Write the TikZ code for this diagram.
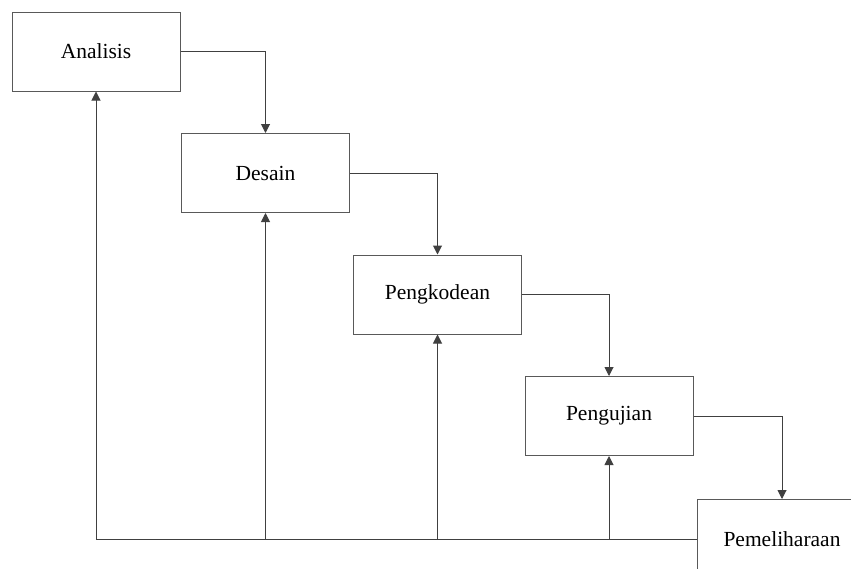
\documentclass[tikz,border=0pt]{standalone}
\usepackage{fontspec}
\setmainfont{Liberation Serif}
\usepackage{tikz}
\usetikzlibrary{arrows.meta}

\tikzset{
  box/.style={draw=black!65, line width=1pt, minimum width=168pt, minimum height=79pt,
    inner sep=0pt, font=\fontsize{21.5}{26}\selectfont},
  link/.style={draw=black!75, line width=1pt, -{Triangle[length=9pt,width=9pt]}}
}

\begin{document}
\begin{tikzpicture}[x=1pt,y=-1pt]
  \useasboundingbox (0,0) rectangle (851,568);
  \node[box] (analisis) at (96,51.5) {Analisis};
  \node[box] (desain) at (265.5,173) {Desain};
  \node[box] (pengkodean) at (437.5,294.5) {Pengkodean};
  \node[box] (pengujian) at (609,416) {Pengujian};
  \node[box, minimum width=170pt] (pemeliharaan) at (782,539) {Pemeliharaan};

  \draw[link] (analisis.east) -| (desain.north);
  \draw[link] (desain.east) -| (pengkodean.north);
  \draw[link] (pengkodean.east) -| (pengujian.north);
  \draw[link] (pengujian.east) -| (pemeliharaan.north);

  \draw[link] (pemeliharaan.west) -- (analisis.south |- pemeliharaan.west) -- (analisis.south);
  \foreach \n in {desain,pengkodean,pengujian}
    \draw[link] (\n.south |- pemeliharaan.west) -- (\n.south);
\end{tikzpicture}
\end{document}
